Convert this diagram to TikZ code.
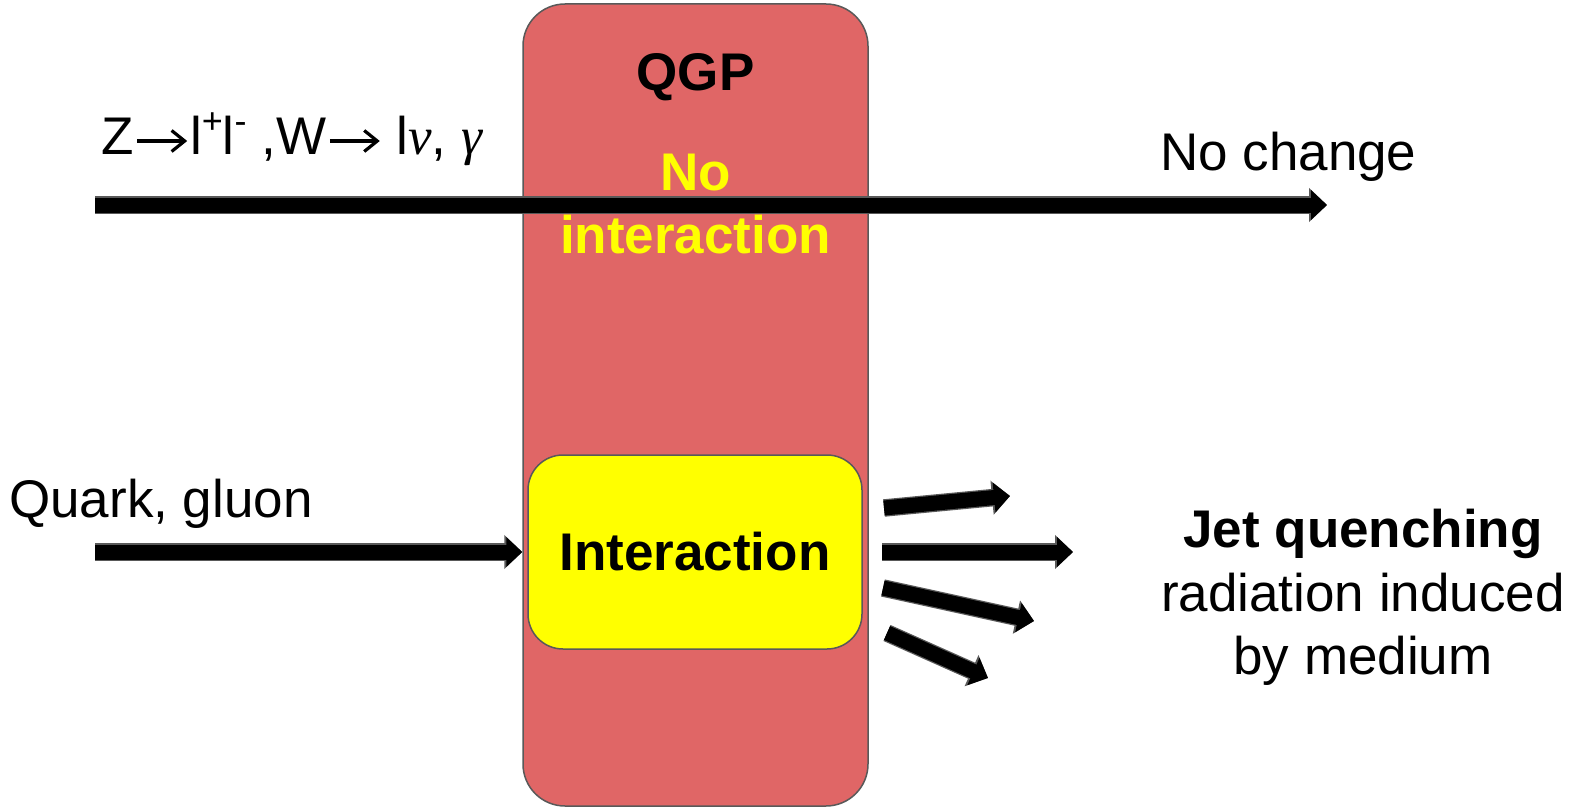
\documentclass[tikz,border=0pt]{standalone}
\usepackage{fontspec}
\setmainfont{Liberation Sans}
\newfontfamily\serifit{Liberation Serif}[ItalicFont=* Italic]
\usetikzlibrary{arrows.meta}
\definecolor{qgpred}{HTML}{E06666}
\definecolor{outl}{HTML}{595959}
\definecolor{yel}{HTML}{FFFF00}
\newcommand{\thinarr}{\tikz[x=1pt,y=1pt,baseline=0pt]{\draw[line width=3.2pt,-{Straight Barb[length=13pt,width=21pt,line width=3.2pt]}] (0,13) -- (50,13);}}
\newcommand{\supr}[1]{\raisebox{21pt}{\fontsize{36}{36}\selectfont #1}}
\begin{document}
\begin{tikzpicture}[x=1pt,y=-1pt,
  lbl/.style={font=\fontsize{53}{63}\selectfont, inner sep=0pt},
  boldlbl/.style={font=\fontsize{53}{63}\selectfont\bfseries, inner sep=0pt},
  box/.style={draw=outl, line width=1.5pt},
  blkarrow/.style={line width=15pt, draw=black, -{Triangle[length=16pt,width=29pt]},
    preaction={draw=outl, line width=17.5pt, -{Triangle[length=18pt,width=33pt]}}}
]
\useasboundingbox (0,0) rectangle (1583,808);
\fill[white] (0,0) rectangle (1583,808);

% QGP medium
\node[box, fill=qgpred, rounded corners=42pt, minimum width=345pt, minimum height=802pt, inner sep=0pt] (qgp) at (695.5,405) {};
\node[boldlbl, anchor=base] (qgplab) at (695.5,91) {QGP};
\node[boldlbl, text=yel, anchor=base] (noint1) at (695.5,190) {No};
\node[boldlbl, text=yel, anchor=base] (noint2) at (695.5,253) {interaction};

% interaction box
\node[box, fill=yel, rounded corners=35pt, minimum width=334pt, minimum height=194pt, boldlbl] (inter) at (695,552) {Interaction};

% labels
\node[lbl, anchor=base west] (zlab) at (101,154) {Z\hspace{2pt}\thinarr\hspace{1pt}l\supr{+}l\supr{-} ,W\hspace{2pt}\thinarr\ l{\serifit\itshape ν}, {\serifit\itshape γ}};
\node[lbl, anchor=base west] (nochange) at (1160,170) {No change};
\node[lbl, anchor=base west] (quark) at (9,517) {Quark, gluon};
\node[boldlbl, anchor=base] (jet1) at (1363,547) {Jet quenching};
\node[lbl, anchor=base] (jet2) at (1363,611) {radiation induced};
\node[lbl, anchor=base] (jet3) at (1363,674) {by medium};

% arrow end points
\coordinate (zs) at (95,205);
\coordinate (ze) at (1327,205);
\coordinate (qs) at (95,552);
\coordinate (f1s) at (884,508);
\coordinate (f1e) at (1010,496);
\coordinate (f2s) at (882,552);
\coordinate (f2e) at (1073,552);
\coordinate (f3s) at (883,588);
\coordinate (f3e) at (1034,621);
\coordinate (f4s) at (887,633);
\coordinate (f4e) at (988,678);

\draw[blkarrow] (zs) -- (ze);
\draw[blkarrow] (qs) -- (qs -| qgp.west);
\draw[blkarrow] (f1s) -- (f1e);
\draw[blkarrow] (f2s) -- (f2e);
\draw[blkarrow] (f3s) -- (f3e);
\draw[blkarrow] (f4s) -- (f4e);
\end{tikzpicture}
\end{document}
